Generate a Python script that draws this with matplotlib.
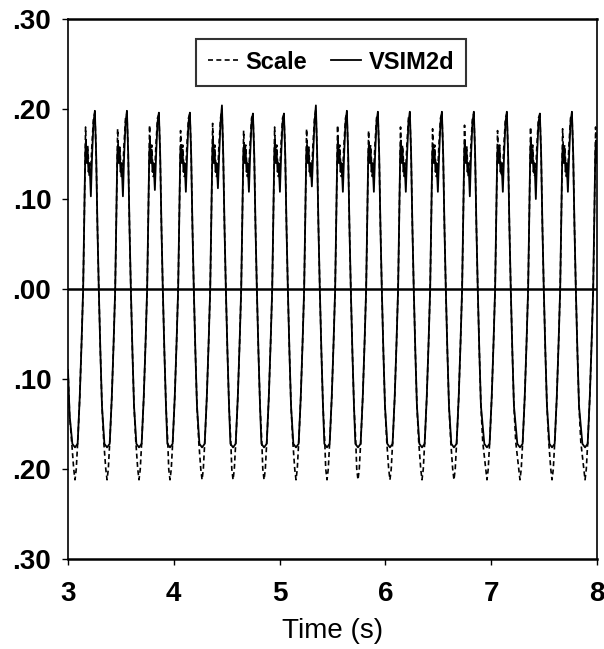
import numpy as np
import matplotlib
matplotlib.use("Agg")
import matplotlib.pyplot as plt

plt.rcParams['font.family'] = ['Liberation Sans', 'DejaVu Sans']

# trough centres (s)
trough_t = [3.066, 3.369, 3.671, 3.964, 4.267, 4.560, 4.853, 5.155, 5.448,
            5.741, 6.043, 6.346, 6.648, 6.960, 7.272, 7.575, 7.887]

# per-cycle heights
vsim_peak = [0.198, 0.198, 0.196, 0.196, 0.204, 0.195, 0.195, 0.204, 0.198,
             0.197, 0.197, 0.197, 0.197, 0.197, 0.195, 0.197, 0.197]
vsim_dip = [0.103, 0.103, 0.110, 0.108, 0.112, 0.108, 0.108, 0.114, 0.108,
            0.108, 0.108, 0.108, 0.103, 0.108, 0.100, 0.108, 0.108]
vsim_hump = [0.165, 0.160, 0.165, 0.160, 0.170, 0.160, 0.165, 0.160, 0.165,
             0.160, 0.165, 0.160, 0.165, 0.160, 0.165, 0.160, 0.165]
scale_peak = [0.196, 0.195, 0.194, 0.195, 0.200, 0.194, 0.194, 0.200, 0.195,
              0.195, 0.195, 0.195, 0.195, 0.195, 0.194, 0.195, 0.195]
scale_hump = [0.180, 0.178, 0.182, 0.176, 0.184, 0.176, 0.180, 0.178, 0.182,
              0.176, 0.180, 0.178, 0.182, 0.176, 0.180, 0.178, 0.180]

# one cycle (offset from trough, value); strings = per-cycle slot
vsim_off = [-0.025, 0.0, 0.025, 0.045, 0.062, 0.077, 0.088, 0.097, 0.103, 0.110,
            0.118, 0.128, 0.138, 0.150, 0.162, 0.175, 0.188, 0.200, 0.212, 0.225,
            0.240, 0.255]
vsim_shape = [-0.172, -0.176, -0.172, -0.12, -0.06, 0.0, 0.08, 0.15, 'hump', 0.14,
              0.155, 0.13, 0.14, 'dip', 0.15, 0.185, 'peak', 0.15, 0.07, 0.0,
              -0.07, -0.13]
scale_off = [-0.012, 0.0, 0.012, 0.030, 0.045, 0.062, 0.077, 0.088, 0.095, 0.100,
             0.108, 0.120, 0.135, 0.148, 0.160, 0.175, 0.188, 0.200, 0.212, 0.225,
             0.240, 0.255, 0.272]
scale_shape = [-0.20, -0.212, -0.20, -0.16, -0.12, -0.06, 0.0, 0.08, 0.14, 'hump',
               0.15, 0.16, 0.125, 0.13, 0.16, 0.19, 'peak', 0.15, 0.07, 0.0,
               -0.07, -0.13, -0.17]

start_t = [3.0, 3.015]
start_v = [-0.09, -0.14]

y_ticks = [-0.3, -0.2, -0.1, 0.0, 0.1, 0.2, 0.3]
y_labels = ['.30', '.20', '.10', '.00', '.10', '.20', '.30']
x_ticks = [3, 4, 5, 6, 7, 8]


def build(offsets, shape, slots):
    t, v = list(start_t), list(start_v)
    for k, tc in enumerate(trough_t):
        for d, s in zip(offsets, shape):
            t.append(tc + d)
            v.append(slots[s][k] if isinstance(s, str) else s)
    return t, v


vsim_t, vsim_v = build(vsim_off, vsim_shape,
                       {'hump': vsim_hump, 'dip': vsim_dip, 'peak': vsim_peak})
scale_t, scale_v = build(scale_off, scale_shape,
                         {'hump': scale_hump, 'peak': scale_peak})

fig = plt.figure(figsize=(6.04, 6.49), dpi=100)
ax = fig.add_axes([0.1126, 0.1387, 0.8758, 0.832])

ax.plot(scale_t, scale_v, color='black', lw=1.2, ls=(0, (3, 2)), label='Scale')
ax.plot(vsim_t, vsim_v, color='black', lw=1.3, label='VSIM2d')
ax.axhline(0, color='black', lw=1.8)

ax.set_xlim(3, 8)
ax.set_ylim(-0.3, 0.3)
ax.set_yticks(y_ticks)
ax.set_yticklabels(y_labels, fontsize=20, fontweight='bold')
ax.set_xticks(x_ticks)
ax.set_xticklabels([str(x) for x in x_ticks], fontsize=20, fontweight='bold')
ax.tick_params(axis='y', direction='out', length=4, width=1, pad=8)
ax.tick_params(axis='x', direction='out', length=4, width=1, pad=12)
ax.set_xlabel('Time (s)', fontsize=20, labelpad=8)

for s in ax.spines.values():
    s.set_linewidth(1.2)
ax.spines['top'].set_linewidth(1.8)
ax.spines['bottom'].set_linewidth(1.8)

leg = ax.legend(loc='center', bbox_to_anchor=(0.497, 0.92), ncol=2,
                frameon=True, fancybox=False, edgecolor='black',
                handlelength=1.3, handletextpad=0.3, columnspacing=1.0,
                borderpad=0.5, prop={'size': 17, 'weight': 'bold'})
leg.get_frame().set_linewidth(1.5)

fig.savefig('out.png', dpi=100)
